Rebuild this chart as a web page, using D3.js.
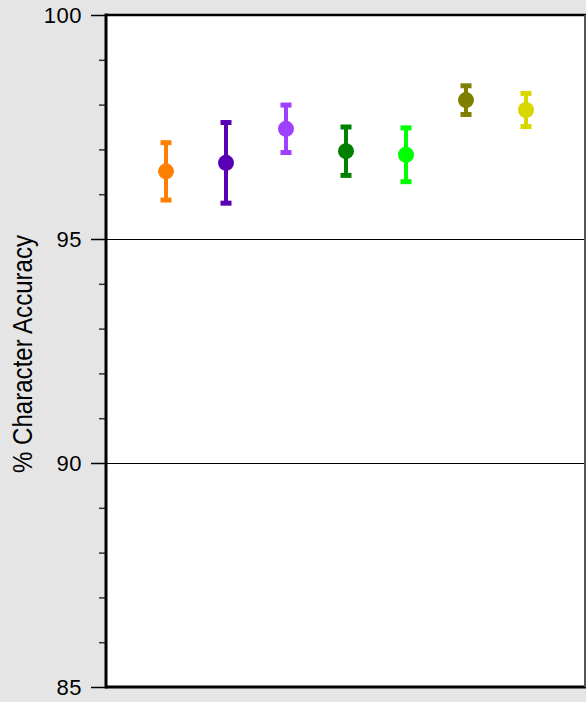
<!DOCTYPE html>
<html>
<head>
<meta charset="utf-8">
<script src="https://cdn.jsdelivr.net/npm/d3@7"></script>
<style>
  html, body { margin: 0; padding: 0; background: #e5e5e5; }
  svg { display: block; }
  text { font-family: "Liberation Sans", Arial, Helvetica, sans-serif; fill: #000; }
</style>
</head>
<body>
<svg id="chart" width="586" height="702"></svg>
<script>
// Mean character accuracy (%) per system, with error half-widths
const systems = ["S1", "S2", "S3", "S4", "S5", "S6", "S7"];
const means   = [96.51, 96.70, 97.46, 96.96, 96.88, 98.10, 97.88];
const errors  = [0.64, 0.90, 0.53, 0.54, 0.60, 0.32, 0.37];
const colors  = ["#ff8000", "#5a00b4", "#a040ff", "#008000", "#00ff00", "#808000", "#d8d800"];
const majorTicks = [85, 90, 95, 100];
const minorTicks = [86, 87, 88, 89, 91, 92, 93, 94, 96, 97, 98, 99];
const yLabel = "% Character Accuracy";

const svg = d3.select("#chart");
const plotL = 106, plotR = 586, plotT = 15, plotB = 687;

const x = d3.scalePoint().domain(systems).range([plotL, plotR]).padding(1);
const y = d3.scaleLinear().domain([85, 100]).range([plotB, plotT]);

// plot area
svg.append("rect")
  .attr("x", plotL).attr("y", plotT)
  .attr("width", plotR - plotL).attr("height", plotB - plotT)
  .attr("fill", "#fff");

// gridlines at interior major ticks
svg.append("g").selectAll("line")
  .data(majorTicks.filter(d => d > 85 && d < 100))
  .join("line")
  .attr("x1", plotL).attr("x2", plotR)
  .attr("y1", d => Math.round(y(d)) + 0.5).attr("y2", d => Math.round(y(d)) + 0.5)
  .attr("stroke", "#000").attr("stroke-width", 1);

// y axis: major ticks with labels
const axisMajor = d3.axisLeft(y).tickValues(majorTicks).tickSize(15).tickPadding(9)
  .tickFormat(d3.format("d"));
const gMajor = svg.append("g").attr("transform", `translate(${plotL},0)`).call(axisMajor);
gMajor.select(".domain").remove();
gMajor.selectAll(".tick line").attr("stroke", "#000").attr("stroke-width", 1.5);
gMajor.selectAll(".tick text")
  .style("font-size", "22px")
  .style("font-family", "'Liberation Sans', Arial, sans-serif")
  .attr("fill", "#000")
  .attr("letter-spacing", "0.5px");

// y axis: minor ticks
const axisMinor = d3.axisLeft(y).tickValues(minorTicks).tickSize(7).tickFormat("");
const gMinor = svg.append("g").attr("transform", `translate(${plotL},0)`).call(axisMinor);
gMinor.select(".domain").remove();
gMinor.selectAll(".tick line").attr("stroke", "#333").attr("stroke-width", 1.5);

// frame
svg.append("line").attr("x1", plotL).attr("x2", plotL).attr("y1", plotT - 1.5).attr("y2", plotB + 1.5)
  .attr("stroke", "#000").attr("stroke-width", 3);
svg.append("line").attr("x1", plotL).attr("x2", plotR).attr("y1", plotT).attr("y2", plotT)
  .attr("stroke", "#000").attr("stroke-width", 2.5);
svg.append("line").attr("x1", plotL).attr("x2", plotR).attr("y1", plotB).attr("y2", plotB)
  .attr("stroke", "#000").attr("stroke-width", 3);
svg.append("line").attr("x1", plotR - 1).attr("x2", plotR - 1).attr("y1", plotT).attr("y2", plotB)
  .attr("stroke", "#555").attr("stroke-width", 2);

// y label (tall, narrow lettering)
svg.append("text")
  .attr("transform", "translate(32,354) rotate(-90)")
  .attr("text-anchor", "middle")
  .attr("textLength", 238)
  .attr("lengthAdjust", "spacingAndGlyphs")
  .style("font-size", "28px")
  .text(yLabel);

// error bars and means
const pts = systems.map((s, i) => ({ s, m: means[i], e: errors[i], c: colors[i] }));
const g = svg.append("g").selectAll("g").data(pts).join("g");
g.append("line")
  .attr("x1", d => x(d.s)).attr("x2", d => x(d.s))
  .attr("y1", d => y(d.m + d.e)).attr("y2", d => y(d.m - d.e))
  .attr("stroke", d => d.c).attr("stroke-width", 4);
g.append("rect")
  .attr("x", d => x(d.s) - 5.5).attr("y", d => y(d.m + d.e) - 2.5)
  .attr("width", 11).attr("height", 5).attr("fill", d => d.c);
g.append("rect")
  .attr("x", d => x(d.s) - 5.5).attr("y", d => y(d.m - d.e) - 2.5)
  .attr("width", 11).attr("height", 5).attr("fill", d => d.c);
g.append("circle")
  .attr("cx", d => x(d.s)).attr("cy", d => y(d.m)).attr("r", 8)
  .attr("fill", d => d.c);
</script>
</body>
</html>
